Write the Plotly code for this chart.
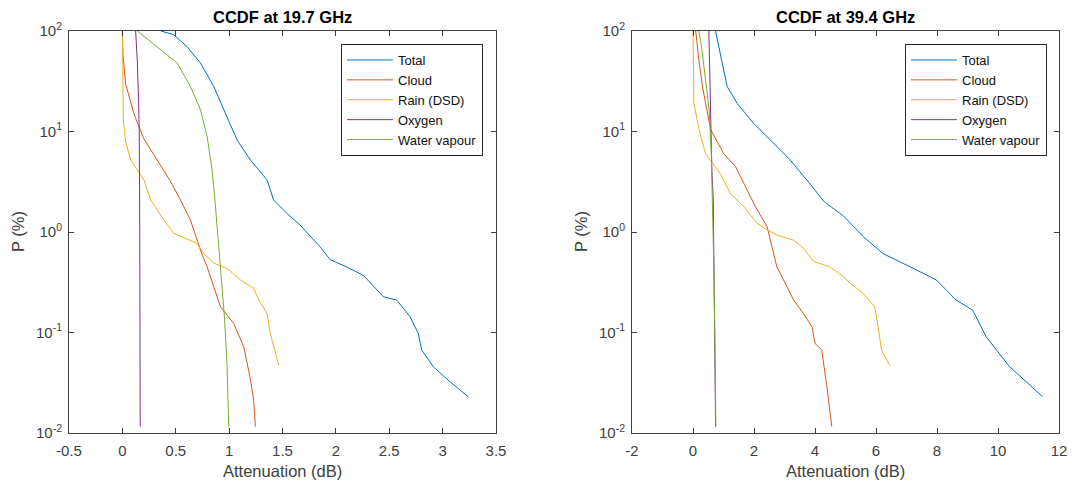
import plotly.graph_objects as go

# ---------------- data: 19.7 GHz ----------------
series_names = ["Total", "Cloud", "Rain (DSD)", "Oxygen", "Water vapour"]
series_colors = ["#0072BD", "#D95319", "#EDB120", "#7E2F8E", "#77AC30"]

total_197_att = [0.36, 0.48, 0.605, 0.732, 0.856, 0.98, 1.075, 1.2, 1.355, 1.417, 1.542, 1.666, 1.76,
                 1.853, 1.947, 2.10, 2.258, 2.383, 2.445, 2.57, 2.694, 2.772, 2.804, 2.912, 3.068, 3.239]
total_197_p = [100, 92, 70, 48, 28, 14, 8.2, 5.2, 3.3, 2.08, 1.53, 1.17, 0.90,
               0.71, 0.53, 0.45, 0.37, 0.265, 0.227, 0.21, 0.144, 0.098, 0.067, 0.0457, 0.0324, 0.023]

cloud_197_att = [0, 0.005, 0.03, 0.108, 0.2, 0.358, 0.45, 0.545, 0.638, 0.732, 0.794, 0.856, 0.919,
                 1.043, 1.137, 1.2, 1.23, 1.246]
cloud_197_p = [100, 60, 30, 15, 8.5, 4.5, 3.2, 2.08, 1.31, 0.66, 0.45, 0.286, 0.18,
               0.123, 0.072, 0.034, 0.021, 0.0116]

rain_197_att = [0, 0.002, 0.009, 0.03, 0.078, 0.202, 0.265, 0.327, 0.389, 0.482, 0.60, 0.70, 0.763,
                0.856, 0.98, 1.105, 1.23, 1.277, 1.355, 1.386, 1.464]
rain_197_p = [100, 40, 13, 8, 5.2, 3.3, 2.08, 1.66, 1.31, 0.97, 0.85, 0.77, 0.61,
              0.49, 0.435, 0.333, 0.275, 0.21, 0.155, 0.098, 0.0475]

oxygen_197_att = [0.124, 0.14, 0.152, 0.158, 0.163, 0.165, 0.167]
oxygen_197_p = [100, 50, 20, 10, 1, 0.1, 0.0116]

vapour_197_att = [0.14, 0.327, 0.514, 0.638, 0.732, 0.794, 0.841, 0.872, 0.895, 0.919, 0.956, 0.981, 0.996]
vapour_197_p = [100, 70, 48, 28, 16.4, 8.9, 4.1, 1.8, 0.9, 0.45, 0.144, 0.046, 0.0116]

# ---------------- data: 39.4 GHz ----------------
total_394_att = [0.74, 0.90, 1.12, 1.45, 1.99, 2.54, 3.19, 3.84, 4.3, 4.93, 5.58, 6.23, 6.89, 7.32,
                 7.98, 8.63, 9.17, 9.39, 9.61, 10.37, 11.46]
total_394_p = [100, 60, 28, 19, 12, 8.2, 5.2, 3.0, 2.0, 1.45, 0.90, 0.61, 0.49, 0.42,
               0.333, 0.21, 0.167, 0.123, 0.091, 0.046, 0.023]

cloud_394_att = [0.09, 0.18, 0.31, 0.58, 1.01, 1.39, 1.78, 2.05, 2.43, 2.75, 2.97, 3.30, 3.62,
                 3.90, 4.0, 4.22, 4.39, 4.55]
cloud_394_p = [100, 55, 28, 10.4, 6.0, 4.5, 2.6, 1.78, 1.13, 0.45, 0.333, 0.21, 0.155,
               0.114, 0.078, 0.067, 0.029, 0.0116]

rain_394_att = [0, 0.01, 0.03, 0.2, 0.41, 0.90, 1.23, 1.66, 2.10, 2.43, 2.75, 3.30, 3.62, 3.95,
                4.49, 4.93, 5.15, 5.58, 5.96, 6.07, 6.18, 6.45]
rain_394_p = [100, 40, 19, 10.4, 6.0, 3.8, 2.4, 1.8, 1.22, 1.05, 0.93, 0.83, 0.69, 0.51,
              0.45, 0.36, 0.31, 0.245, 0.18, 0.114, 0.067, 0.047]

oxygen_394_att = [0.52, 0.55, 0.58, 0.62, 0.665, 0.69, 0.72, 0.74]
oxygen_394_p = [100, 40, 13, 4, 2.08, 0.21, 0.05, 0.0116]

vapour_394_att = [0.19, 0.28, 0.36, 0.45, 0.53, 0.60, 0.64, 0.68, 0.72, 0.75]
vapour_394_p = [100, 70, 44, 25, 16.4, 6, 2, 0.5, 0.08, 0.0116]

titles = ["CCDF at 19.7 GHz", "CCDF at 39.4 GHz"]
x_label = "Attenuation (dB)"
y_label = "P (%)"

x_ticks_197 = [-0.5, 0, 0.5, 1, 1.5, 2, 2.5, 3, 3.5]
x_ticktext_197 = ["-0.5", "0", "0.5", "1", "1.5", "2", "2.5", "3", "3.5"]
x_ticks_394 = [-2, 0, 2, 4, 6, 8, 10, 12]
x_ticktext_394 = ["-2", "0", "2", "4", "6", "8", "10", "12"]
y_ticks = [0.01, 0.1, 1, 10, 100]
y_ticktext = ["10<sup>-2</sup>", "10<sup>-1</sup>", "10<sup>0</sup>", "10<sup>1</sup>", "10<sup>2</sup>"]

# ---------------- figure ----------------
W, H = 1072, 486
FONT = "Liberation Sans, Arial, Helvetica, sans-serif"
AX = "#404040"

fig = go.Figure()

left = [(total_197_att, total_197_p), (cloud_197_att, cloud_197_p), (rain_197_att, rain_197_p),
        (oxygen_197_att, oxygen_197_p), (vapour_197_att, vapour_197_p)]
right = [(total_394_att, total_394_p), (cloud_394_att, cloud_394_p), (rain_394_att, rain_394_p),
         (oxygen_394_att, oxygen_394_p), (vapour_394_att, vapour_394_p)]

for (xs, ps), name, col in zip(left, series_names, series_colors):
    fig.add_trace(go.Scatter(x=xs, y=ps, mode="lines", name=name, line=dict(color=col, width=1),
                             xaxis="x", yaxis="y", legend="legend"))
for (xs, ps), name, col in zip(right, series_names, series_colors):
    fig.add_trace(go.Scatter(x=xs, y=ps, mode="lines", name=name, line=dict(color=col, width=1),
                             xaxis="x2", yaxis="y2", legend="legend2"))

xd1 = [69 / W, 496 / W]
xd2 = [632 / W, 1059 / W]
yd = [1 - 433 / H, 1 - 31 / H]

common_axis = dict(showline=True, linecolor=AX, linewidth=1, mirror="ticks", ticks="inside",
                   ticklen=5, tickcolor=AX, showgrid=False, zeroline=False, automargin=False,
                   tickfont=dict(family=FONT, size=15, color=AX))

legend_style = dict(xanchor="right", yanchor="top", bgcolor="white",
                    bordercolor="#262626", borderwidth=1,
                    font=dict(family=FONT, size=13, color="#111"),
                    itemwidth=46, tracegroupgap=0)

fig.update_layout(
    width=W, height=H, margin=dict(l=0, r=0, t=0, b=0, pad=0, autoexpand=False),
    paper_bgcolor="white", plot_bgcolor="white",
    font=dict(family=FONT, color=AX),
    xaxis=dict(domain=xd1, range=[-0.5, 3.5], tickvals=x_ticks_197, ticktext=x_ticktext_197,
               anchor="y", ticklabelstandoff=4, **common_axis),
    yaxis=dict(domain=yd, type="log", range=[-2, 2], tickvals=y_ticks, ticktext=y_ticktext,
               anchor="x", ticklabelstandoff=3, **common_axis),
    xaxis2=dict(domain=xd2, range=[-2, 12], tickvals=x_ticks_394, ticktext=x_ticktext_394,
                anchor="y2", ticklabelstandoff=4, **common_axis),
    yaxis2=dict(domain=yd, type="log", range=[-2, 2], tickvals=y_ticks, ticktext=y_ticktext,
                anchor="x2", ticklabelstandoff=3, **common_axis),
    legend=dict(x=483 / W, y=1 - 44 / H, **legend_style),
    legend2=dict(x=1047 / W, y=1 - 44 / H, **legend_style),
    showlegend=True,
)

annotations = []
for dom, title, ylx in [(xd1, titles[0], 18), (xd2, titles[1], 581)]:
    cx = (dom[0] + dom[1]) / 2
    annotations.append(dict(text="<b>" + title + "</b>", x=cx, y=1 - 17 / H, xref="paper", yref="paper",
                            xanchor="center", yanchor="middle", showarrow=False,
                            font=dict(family=FONT, size=16.5, color="#000")))
    annotations.append(dict(text=x_label, x=cx, y=1 - 471 / H, xref="paper", yref="paper",
                            xanchor="center", yanchor="middle", showarrow=False,
                            font=dict(family=FONT, size=16.5, color=AX)))
    annotations.append(dict(text=y_label, x=ylx / W, y=(yd[0] + yd[1]) / 2, xref="paper", yref="paper",
                            xanchor="center", yanchor="middle", showarrow=False, textangle=-90,
                            font=dict(family=FONT, size=16.5, color=AX)))
fig.update_layout(annotations=annotations)

fig.write_html("out.html")
